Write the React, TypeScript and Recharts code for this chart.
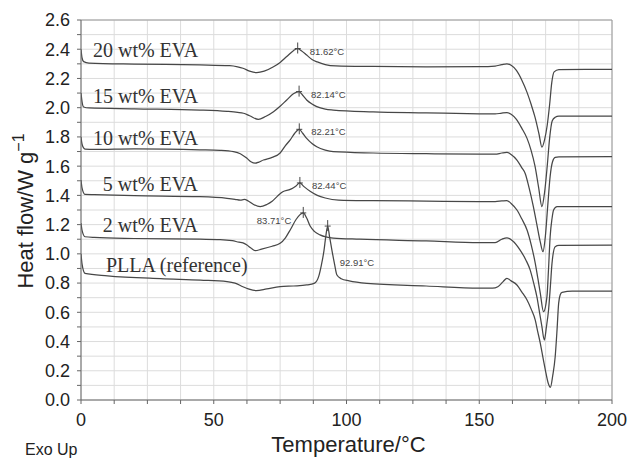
import React from 'react';
import { LineChart, Line, XAxis, YAxis, CartesianGrid, ReferenceDot, ReferenceLine, Label } from 'recharts';

const tempTicks = [0, 12.5, 25, 37.5, 50, 62.5, 75, 87.5, 100, 112.5, 125, 137.5, 150, 162.5, 175, 187.5, 200];
const heatTicks = [0, 0.1, 0.2, 0.3, 0.4, 0.5, 0.6, 0.7, 0.8, 0.9, 1.0, 1.1, 1.2, 1.3, 1.4, 1.5, 1.6, 1.7, 1.8, 1.9, 2.0, 2.1, 2.2, 2.3, 2.4, 2.5, 2.6];

const eva20: [number, number][] = [
  [0, 2.40], [0.4, 2.34], [1, 2.315], [3, 2.305], [20, 2.298], [44.8, 2.293], [56, 2.288], [59, 2.28], [61, 2.27],
  [63.5, 2.25], [66.2, 2.24], [69, 2.25], [72.5, 2.28], [75, 2.31], [77.5, 2.35], [80, 2.39], [81.6, 2.405], [83, 2.39],
  [85, 2.36], [87, 2.33], [89, 2.313], [92, 2.295], [96, 2.286], [110, 2.282], [130, 2.279], [150, 2.281], [156, 2.285],
  [158.5, 2.295], [160.4, 2.30], [162, 2.29], [164, 2.255], [166, 2.19], [168, 2.105], [169.5, 2.025], [171, 1.935],
  [172.5, 1.82], [173.6, 1.73], [174.6, 1.78], [175.6, 1.88], [176.5, 2.02], [177.3, 2.17], [178.2, 2.245], [180, 2.26],
  [190, 2.263], [200, 2.262],
];

const eva15: [number, number][] = [
  [0, 2.10], [0.4, 2.04], [1, 2.005], [3, 1.998], [20, 1.992], [44.8, 1.984], [55, 1.975], [59, 1.968], [61.2, 1.962],
  [63.5, 1.945], [66.8, 1.92], [69.5, 1.94], [72.5, 1.973], [75, 2.01], [77.5, 2.053], [80, 2.095], [82.1, 2.11],
  [83.5, 2.085], [85, 2.053], [87, 2.025], [88.8, 2.007], [92, 1.99], [95, 1.984], [110, 1.972], [130, 1.965],
  [150, 1.958], [156, 1.957], [158.5, 1.963], [160.4, 1.966], [162, 1.955], [164, 1.92], [166, 1.86], [168, 1.79],
  [169.5, 1.71], [171, 1.6], [172.4, 1.45], [173.6, 1.323], [174.6, 1.42], [175.6, 1.6], [176.5, 1.79], [177.5, 1.91],
  [178.6, 1.934], [180, 1.942], [200, 1.943],
];

const eva10: [number, number][] = [
  [0, 1.80], [0.4, 1.75], [1.5, 1.717], [5, 1.714], [20, 1.718], [44.8, 1.712], [52.4, 1.708], [57.4, 1.699],
  [60, 1.685], [62.4, 1.655], [64, 1.63], [65.6, 1.62], [67, 1.628], [68.7, 1.642], [72, 1.66], [75, 1.69], [77, 1.74],
  [78.8, 1.78], [80.5, 1.825], [82.2, 1.852], [83.5, 1.825], [85, 1.79], [87, 1.755], [88.8, 1.733], [92, 1.71],
  [95, 1.699], [110, 1.69], [130, 1.685], [150, 1.682], [156, 1.682], [158.5, 1.69], [160.4, 1.694], [162, 1.68],
  [164.2, 1.642], [166, 1.59], [167.3, 1.55], [168.8, 1.45], [170.3, 1.33], [171.7, 1.2], [173, 1.08], [174, 1.015],
  [174.9, 1.12], [175.8, 1.33], [176.7, 1.53], [177.6, 1.63], [178.6, 1.66], [180, 1.663], [200, 1.665],
];

const eva5: [number, number][] = [
  [0, 1.505], [0.4, 1.45], [1.5, 1.407], [5, 1.405], [20, 1.398], [44.8, 1.391], [55, 1.38], [58, 1.373], [60, 1.367],
  [61.5, 1.372], [63, 1.362], [65, 1.338], [67.5, 1.323], [70, 1.338], [72, 1.36], [74, 1.395], [76, 1.425],
  [78.8, 1.441], [81, 1.465], [82.4, 1.485], [84, 1.46], [86.3, 1.428], [89, 1.4], [92, 1.382], [97, 1.368],
  [110, 1.364], [130, 1.361], [150, 1.358], [156, 1.358], [158.5, 1.362], [160.4, 1.365], [162, 1.345], [164.2, 1.3],
  [166, 1.24], [168, 1.163], [169.6, 1.06], [171.1, 0.935], [172.1, 0.83], [173, 0.73], [174.2, 0.604], [175.5, 0.707],
  [176.1, 0.9], [176.7, 1.117], [177.4, 1.24], [178, 1.3], [179.3, 1.323], [200, 1.323],
];

const eva2: [number, number][] = [
  [0, 1.21], [0.4, 1.16], [1.5, 1.117], [5, 1.112], [20, 1.105], [44.8, 1.1], [52.4, 1.098], [57, 1.09], [59.5, 1.08],
  [61, 1.075], [62.5, 1.06], [64, 1.04], [65.6, 1.022], [68, 1.032], [72, 1.052], [75, 1.072], [77, 1.11], [79, 1.17],
  [81, 1.235], [83.7, 1.28], [85, 1.245], [86.3, 1.19], [88, 1.152], [90, 1.13], [95, 1.108], [105, 1.1], [130, 1.088],
  [150, 1.076], [156, 1.076], [158.5, 1.1], [160.4, 1.11], [162.5, 1.09], [165.4, 1.026], [167.5, 0.96], [169.2, 0.889],
  [170.5, 0.8], [171.7, 0.707], [172.7, 0.6], [173.6, 0.502], [174.5, 0.41], [175.3, 0.5], [176.1, 0.616],
  [176.8, 0.78], [177.4, 0.935], [178.6, 1.049], [180, 1.058], [200, 1.06],
];

const plla: [number, number][] = [
  [0, 1.0], [0.4, 0.93], [1.5, 0.867], [10, 0.85], [30, 0.83], [45, 0.82], [55, 0.81], [58, 0.80], [61, 0.775],
  [63, 0.76], [66, 0.748], [70, 0.76], [75, 0.775], [80, 0.78], [85, 0.787], [88, 0.80], [89.5, 0.844], [90.5, 0.92],
  [91.5, 1.02], [92.2, 1.12], [92.9, 1.19], [93.6, 1.12], [94.5, 1.026], [95.5, 0.93], [96.4, 0.855], [98, 0.83],
  [101, 0.815], [107.7, 0.798], [130, 0.78], [150, 0.765], [155, 0.765], [157, 0.775], [159, 0.81], [160.4, 0.833],
  [162, 0.815], [164.2, 0.787], [166, 0.74], [168, 0.684], [169.6, 0.62], [171.1, 0.547], [172, 0.47], [173, 0.388],
  [174, 0.29], [174.9, 0.205], [175.9, 0.12], [176.8, 0.087], [177.7, 0.17], [178.6, 0.296], [179.3, 0.48],
  [179.9, 0.661], [180.5, 0.72], [181.2, 0.737], [185, 0.745], [200, 0.745],
];

const seriesList = [eva20, eva15, eva10, eva5, eva2, plla];

const curveNames = ['20 wt% EVA', '15 wt% EVA', '10 wt% EVA', '5 wt% EVA', '2 wt% EVA', 'PLLA (reference)'];
const nameAnchorX = [4.5, 4.5, 4.5, 8.2, 8.2, 9.4];
const nameAnchorY = [2.347, 2.034, 1.745, 1.432, 1.147, 0.878];

const peakTemps = [81.62, 82.14, 82.21, 82.44, 83.71, 92.91];
const peakFlows = [2.405, 2.11, 1.852, 1.485, 1.28, 1.19];
const peakLabels = ['81.62°C', '82.14°C', '82.21°C', '82.44°C', '83.71°C', '92.91°C'];
const peakLabelSide = ['right', 'right', 'right', 'right', 'left', 'below'];

const toRows = (s: [number, number][]) => s.map(([x, y]) => ({ x, y }));

const SANS = '"Liberation Sans", Arial, sans-serif';
const SERIF = '"Liberation Serif", "Times New Roman", serif';
const INK = '#474747';

export default function App() {
  return (
    <div style={{ position: 'absolute', left: 0, top: 0, background: '#fff' }}>
      <LineChart width={627} height={458} margin={{ top: 20, right: 15, bottom: 28, left: 0 }}>
        <CartesianGrid stroke="#dcdcdc" strokeWidth={1} />
        <XAxis
          type="number"
          dataKey="x"
          domain={[0, 200]}
          ticks={tempTicks}
          interval={0}
          allowDataOverflow
          height={30}
          tickSize={4}
          tickMargin={9}
          stroke="#666"
          tick={{ fill: '#222', fontSize: 18, fontFamily: SANS }}
          tickFormatter={(v: number) => (v % 50 === 0 ? String(v) : '')}
        >
          <Label
            content={(props: any) => {
              const vb = props.viewBox || { x: 81, y: 400, width: 531 };
              return (
                <g>
                  <text x={vb.x + vb.width / 2 + 2} y={vb.y + 52} textAnchor="middle" fontSize={22} fontFamily={SANS} fill="#222">
                    Temperature/°C
                  </text>
                  <text x={25} y={455} textAnchor="start" fontSize={16} fontFamily={SANS} fill="#222">
                    Exo Up
                  </text>
                </g>
              );
            }}
          />
        </XAxis>
        <YAxis
          type="number"
          domain={[0, 2.6]}
          ticks={heatTicks}
          interval={0}
          allowDataOverflow
          width={81}
          tickSize={4}
          tickMargin={7}
          stroke="#666"
          tick={{ fill: '#222', fontSize: 18, fontFamily: SANS }}
          tickFormatter={(v: number) => (Math.round(v * 10) % 2 === 0 ? v.toFixed(1) : '')}
        >
          <Label
            content={(props: any) => {
              const vb = props.viewBox || { x: 0, y: 20 };
              const cx = vb.x + 33;
              const cy = 211;
              return (
                <text x={cx} y={cy} transform={`rotate(-90 ${cx} ${cy})`} textAnchor="middle" fontSize={22} fontFamily={SANS} fill="#222">
                  <tspan>Heat flow/W g</tspan>
                  <tspan dy={-9} fontSize={16}>−1</tspan>
                </text>
              );
            }}
          />
        </YAxis>
        <ReferenceLine y={2.6} stroke="#9a9a9a" strokeWidth={1} ifOverflow="visible" />
        <ReferenceLine x={200} stroke="#9a9a9a" strokeWidth={1} ifOverflow="visible" />
        {seriesList.map((s, i) => (
          <Line
            key={curveNames[i]}
            data={toRows(s)}
            dataKey="y"
            type="monotone"
            dot={false}
            activeDot={false}
            stroke={INK}
            strokeWidth={1.25}
            isAnimationActive={false}
          />
        ))}
        {curveNames.map((name, i) => (
          <ReferenceDot
            key={'n' + i}
            x={nameAnchorX[i]}
            y={nameAnchorY[i]}
            r={0}
            ifOverflow="visible"
            shape={(p: any) => (
              <text x={p.cx} y={p.cy} fontSize={20} fontFamily={SERIF} fill="#333" textAnchor="start">
                {name}
              </text>
            )}
          />
        ))}
        {peakTemps.map((t, i) => (
          <ReferenceDot
            key={'p' + i}
            x={t}
            y={peakFlows[i]}
            r={0}
            ifOverflow="visible"
            shape={(p: any) => {
              const side = peakLabelSide[i];
              const lx = side === 'left' ? p.cx - 12 : p.cx + 12;
              const ly = side === 'below' ? p.cy + 40 : side === 'left' ? p.cy + 11 : p.cy + 6;
              return (
                <g>
                  <line x1={p.cx} y1={p.cy - 6} x2={p.cx} y2={p.cy + 5} stroke={INK} strokeWidth={1} />
                  <line x1={p.cx - 3} y1={p.cy} x2={p.cx + 3} y2={p.cy} stroke={INK} strokeWidth={1} />
                  <text x={lx} y={ly} fontSize={9.5} fontFamily={SANS} fill="#444" textAnchor={side === 'left' ? 'end' : 'start'}>
                    {peakLabels[i]}
                  </text>
                </g>
              );
            }}
          />
        ))}
      </LineChart>
    </div>
  );
}
